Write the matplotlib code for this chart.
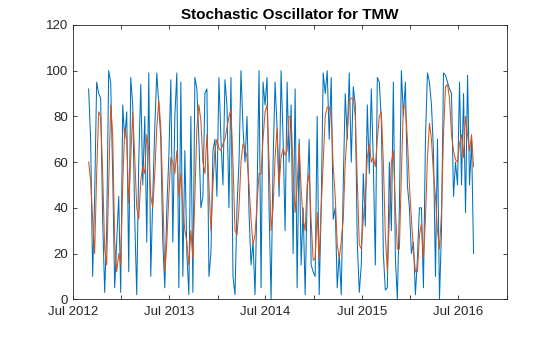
import matplotlib
matplotlib.use("Agg")
import matplotlib.pyplot as plt
import matplotlib.dates as mdates
import pandas as pd

# %K (fast stochastic) and %D (its smoothed line)
pct_k = [
    92, 70, 10, 45, 95, 90, 88, 35, 3, 30, 100, 95, 55, 5, 25, 45, 3, 85, 70, 82,
    12, 97, 85, 35, 2, 60, 94, 50, 80, 25, 99,
    10, 45, 75, 99, 85, 70, 25, 5, 40, 62, 96, 25, 80, 99, 5, 95, 10, 65, 20,
    2, 80, 3, 97, 92, 70, 40, 45, 90, 92, 10, 20, 65,
    70, 45, 97, 70, 50, 96, 85, 40, 97, 10, 2, 40, 60, 100, 75, 60, 80, 38,
    15, 25, 2, 45, 100, 5, 95, 85, 97, 40, 0, 60, 95, 75, 45,
    100, 70, 30, 95, 60, 85, 20, 92, 5, 70, 15, 40, 2, 45, 70, 15, 12, 10,
    80, 2, 40, 99, 90, 100, 70, 97, 35, 40, 5, 20, 2, 50,
    90, 70, 99, 60, 93, 85, 25, 3, 15, 55, 32, 85, 55, 92, 60, 15, 97, 95,
    78, 20, 4, 5, 60, 30, 95, 18, 0, 40, 100, 80, 95, 50, 40,
    20, 25, 2, 18, 40, 40, 5, 70, 99, 95, 85, 65, 10, 70, 0, 30, 99, 98,
    95, 92, 90, 45, 60, 50, 95, 50, 90, 38, 98, 50, 70, 20,
]
pct_d = [
    60, 52, 35, 20, 55, 82, 80, 55, 22, 15, 50, 85, 72, 25, 12, 20, 15, 50, 75, 70,
    42, 62, 82, 62, 40, 35, 52, 58, 55, 72, 65,
    45, 40, 55, 75, 87, 75, 45, 12, 25, 45, 62, 60, 55, 65, 45, 55, 40, 30, 25,
    15, 30, 18, 45, 75, 85, 78, 60, 55, 72, 50, 30, 50,
    65, 70, 66, 65, 68, 70, 75, 80, 83, 60, 30, 28, 40, 60, 68, 66, 62, 50,
    35, 24, 28, 42, 55, 55, 70, 82, 85, 60, 30, 40, 62, 75, 50,
    62, 66, 63, 65, 80, 80, 55, 38, 50, 68, 48, 35, 30, 50, 55, 34, 17, 18,
    38, 18, 40, 60, 80, 84, 84, 80, 58, 45, 24, 18, 25, 35,
    60, 73, 87, 88, 88, 80, 52, 24, 22, 35, 45, 62, 68, 60, 62, 58, 70, 80,
    82, 60, 28, 12, 35, 60, 65, 40, 22, 22, 55, 85, 84, 70, 50,
    35, 22, 12, 12, 28, 33, 18, 35, 62, 77, 70, 55, 45, 30, 22, 38, 72, 93,
    94, 88, 72, 65, 61, 60, 68, 72, 62, 80, 72, 65, 72, 58,
]
dates = pd.date_range("2012-08-30", "2016-08-28", periods=len(pct_k))

plt.rcParams["font.family"] = ["Liberation Sans", "DejaVu Sans"]
axis_color = "#262626"

fig = plt.figure(figsize=(5.6, 3.37), dpi=100)
ax = fig.add_axes([0.13, 0.112, 0.775, 0.814])
ax.plot(dates, pct_k, color="#0072BD", lw=0.75)
ax.plot(dates, pct_d, color="#D95319", lw=0.75)

ax.set_xlim(pd.Timestamp("2012-07-01"), pd.Timestamp("2017-01-01"))
ax.set_ylim(0, 120)
ax.set_yticks(range(0, 121, 20))
ax.xaxis.set_major_locator(mdates.MonthLocator(bymonth=7))
ax.xaxis.set_minor_locator(mdates.MonthLocator(bymonth=1))
ax.xaxis.set_major_formatter(mdates.DateFormatter("%b %Y"))

ax.tick_params(which="both", direction="in", top=True, right=True,
               length=3.2, width=0.6, colors=axis_color, labelsize=9.5)
ax.tick_params(axis="x", pad=5)
for s in ax.spines.values():
    s.set_color(axis_color)
    s.set_linewidth(0.6)
ax.set_title("Stochastic Oscillator for TMW", fontsize=11, fontweight="bold",
             color="black", pad=4)

fig.savefig("out.png", dpi=100)
